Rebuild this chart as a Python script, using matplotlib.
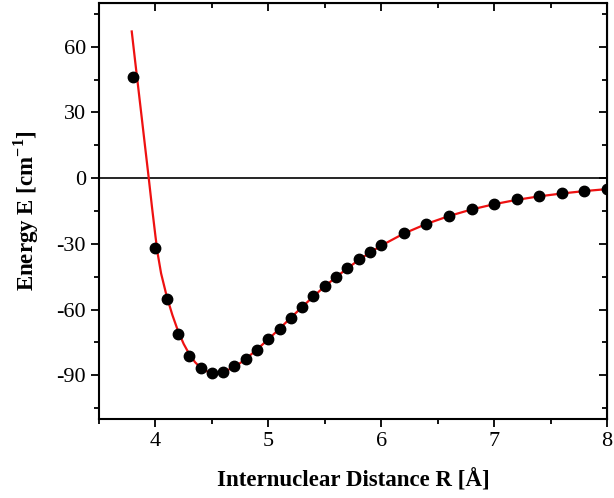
#!/usr/bin/env python3
# -*- coding: utf-8 -*-

import matplotlib
matplotlib.use("Agg")
import matplotlib.pyplot as plt
from matplotlib.ticker import MultipleLocator

FILE_PLOT = "out.png"

# measured points (R in Angstrom, E in cm^-1)
r_data = [3.8, 4.0, 4.1, 4.2, 4.3, 4.4, 4.5, 4.6, 4.7, 4.8, 4.9, 5.0,
          5.1, 5.2, 5.3, 5.4, 5.5, 5.6, 5.7, 5.8, 5.9, 6.0,
          6.2, 6.4, 6.6, 6.8, 7.0, 7.2, 7.4, 7.6, 7.8, 8.0]
e_data = [46.3, -31.9, -55.3, -71.2, -81.3, -86.7, -88.8, -88.4, -86.0, -82.8,
          -78.3, -73.6, -68.9, -63.8, -58.8, -53.9, -49.3, -45.1, -40.9, -37.1,
          -33.9, -30.5, -25.2, -20.9, -17.1, -14.1, -11.8, -9.6, -8.1, -6.6,
          -5.7, -5.0]

# fitted potential curve
r_fit = [3.79, 3.82, 3.85, 3.88, 3.91, 3.94, 3.97, 4.0, 4.02, 4.05, 4.1,
         4.15, 4.2, 4.25, 4.3, 4.35, 4.4, 4.45, 4.5, 4.55, 4.6, 4.7, 4.8,
         4.9, 5.0, 5.1, 5.2, 5.3, 5.4, 5.5, 5.6, 5.7, 5.8, 5.9, 6.0, 6.2,
         6.4, 6.6, 6.8, 7.0, 7.2, 7.4, 7.6, 7.8, 8.0]
e_fit = [67.0, 53.5, 40.3, 27.0, 13.6, 0.3, -13.5, -26.5, -34.5, -43.5, -54.0,
         -62.5, -69.8, -75.7, -80.4, -84.0, -86.6, -88.1, -88.9, -89.0, -88.5,
         -86.3, -82.6, -78.2, -73.6, -68.7, -63.7, -58.8, -54.0, -49.4, -45.2,
         -41.2, -37.4, -34.0, -30.8, -25.3, -20.9, -17.3, -14.3, -11.9, -9.9,
         -8.3, -7.0, -5.9, -5.0]


def main():
    plt.rcParams["font.family"] = ["Liberation Serif", "DejaVu Serif"]
    plt.rcParams["mathtext.fontset"] = "custom"
    plt.rcParams["mathtext.rm"] = "Liberation Serif:bold"
    plt.rcParams["mathtext.bf"] = "Liberation Serif:bold"
    plt.rcParams["axes.unicode_minus"] = False

    fig = plt.figure(figsize=(6.14, 4.98), dpi=100)
    ax = fig.add_axes([99 / 614, 1 - 419 / 498, 508 / 614, 416 / 498])

    ax.axhline(0, color="black", lw=1.2, zorder=1)
    ax.plot(r_fit, e_fit, color="#ee1111", lw=1.6, zorder=2)
    ax.plot(r_data, e_data, "o", color="black", ms=7.5, zorder=3)

    ax.set_xlim(3.5, 8)
    ax.set_ylim(-110, 80)
    ax.xaxis.set_major_locator(MultipleLocator(1))
    ax.xaxis.set_minor_locator(MultipleLocator(0.5))
    ax.yaxis.set_major_locator(MultipleLocator(30))
    ax.yaxis.set_minor_locator(MultipleLocator(15))

    for s in ax.spines.values():
        s.set_linewidth(1.5)

    ax.tick_params(which="both", direction="out", width=1.3, labelsize=16,
                   top=False, right=False)
    ax.tick_params(which="major", length=6)
    ax.tick_params(which="minor", length=3.5)

    # inward ticks on top / right
    ax2 = ax.secondary_xaxis("top")
    ax2.xaxis.set_major_locator(MultipleLocator(1))
    ax2.xaxis.set_minor_locator(MultipleLocator(0.5))
    ax2.tick_params(which="both", direction="in", width=1.3, labeltop=False)
    ax2.tick_params(which="major", length=6)
    ax2.tick_params(which="minor", length=3.5)
    ax3 = ax.secondary_yaxis("right")
    ax3.yaxis.set_major_locator(MultipleLocator(30))
    ax3.yaxis.set_minor_locator(MultipleLocator(15))
    ax3.tick_params(which="both", direction="in", width=1.3, labelright=False)
    ax3.tick_params(which="major", length=6)
    ax3.tick_params(which="minor", length=3.5)

    ax.set_xlabel("Internuclear Distance R [Å]", fontsize=16.5,
                  fontweight="bold", labelpad=13)
    ax.set_ylabel("Energy E [cm$^{-1}$]", fontsize=16.5,
                  fontweight="bold", labelpad=11)

    fig.savefig(FILE_PLOT, dpi=100)


if __name__ == "__main__":
    main()
